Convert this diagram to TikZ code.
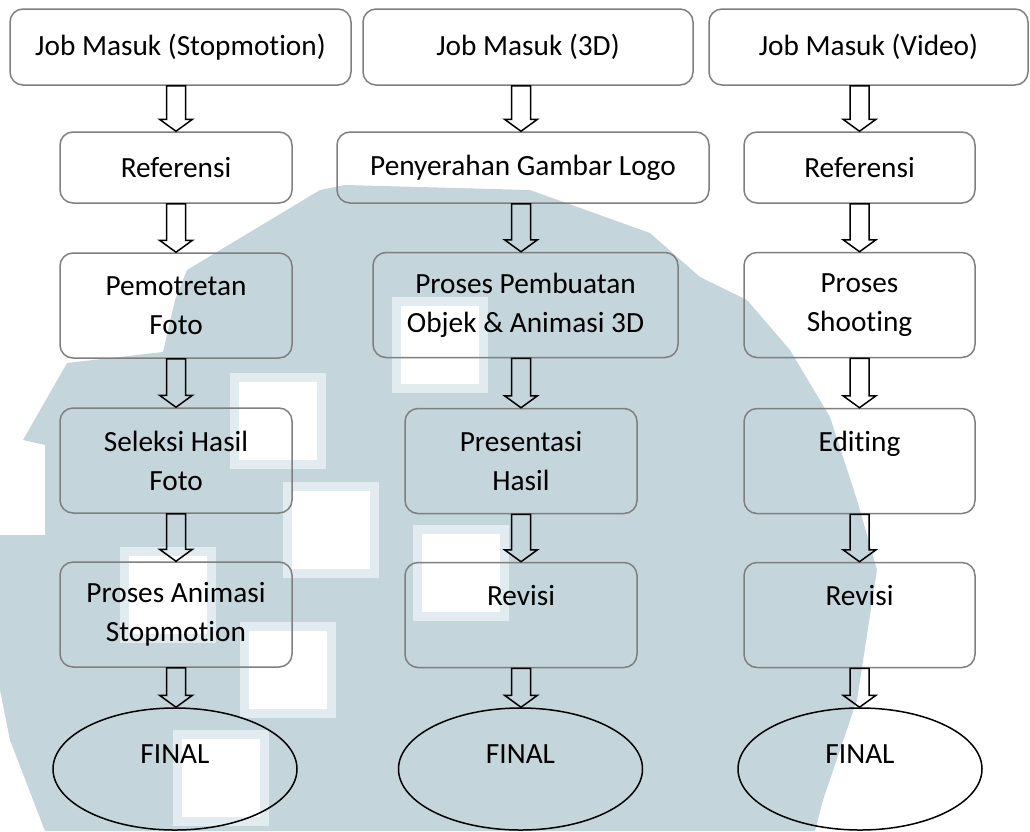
\documentclass[tikz,border=0pt]{standalone}
\usepackage{fontspec}
\setmainfont{Carlito}[Ligatures=NoCommon]
\usetikzlibrary{shapes.geometric,calc}

\definecolor{garisabu}{HTML}{7F7F7F}
\definecolor{latarbiru}{HTML}{C4D5DC}
\definecolor{latarpucat}{HTML}{E2EBEF}

\tikzset{
  kotak/.style={draw=garisabu, line width=1.5pt, rounded corners=13pt, align=center,
    inner sep=0pt, minimum width=232pt, minimum height=105pt},
  kotakjob/.style={kotak, minimum height=76pt},
  kotakref/.style={kotak, minimum height=71pt},
  lonjong/.style={draw, ellipse, line width=1.5pt, inner sep=0pt,
    minimum width=244pt, minimum height=122pt, text depth=30pt},
  panah/.style={draw, line width=1.5pt, line join=miter}
}

% panah blok dari #2 ke #3 pada sumbu kolom #1
\newcommand{\panahblok}[3]{%
  \draw[panah] let \p1=(#2.south -| #1), \p2=(#3.north -| #1) in
    (\x1-9.5pt,\y1) -- (\x1+9.5pt,\y1) -- (\x1+9.5pt,\y2+12pt) -- (\x1+16.5pt,\y2+12pt)
    -- (\x2,\y2) -- (\x1-16.5pt,\y2+12pt) -- (\x1-9.5pt,\y2+12pt) -- cycle;}

\begin{document}
\begin{tikzpicture}[x=1pt, y=-1pt, font=\fontsize{29.3}{39}\selectfont]
    \useasboundingbox (0,0) rectangle (1030,831);

    % Latar (watermark)
    \fill[latarbiru] (45,831) -- (10,740) -- (0,690) -- (0,535) -- (45,535) -- (45,445)
      -- (23,440) -- (67,363) -- (163,352) -- (175,300) -- (187,270) -- (320,190)
      -- (345,185) -- (530,190) -- (650,233) -- (700,277) -- (747,300) -- (790,350)
      -- (830,417) -- (857,500) -- (877,570) -- (857,700) -- (823,800) -- (815,831) -- cycle;
    \foreach \x/\y in {230/373, 283/482, 392/297, 413/525, 240/622, 120/547, 173/730} {
      \fill[latarpucat] (\x,\y) rectangle ++(96,96);
      \fill[white] (\x+9,\y+9) rectangle ++(78,78);
    }

    % Sumbu kolom
    \coordinate (c1) at (176,0);
    \coordinate (c2) at (521,0);
    \coordinate (c3) at (859.5,0);

    % Kolom 1: Stopmotion
    \node[kotakjob, minimum width=341pt] (job1) at (180.5,47) {Job Masuk (Stopmotion)};
    \node[kotakref] (ref1) at (176,167.5) {Referensi};
    \node[kotak] (foto1) at (176,305.5) {Pemotretan\\Foto};
    \node[kotak] (seleksi1) at (176,460.5) {Seleksi Hasil\\Foto};
    \node[kotak] (animasi1) at (176,614.5) {Proses Animasi\\Stopmotion};
    \node[lonjong] (final1) at (175,769) {FINAL};

    % Kolom 2: 3D
    \node[kotakjob, minimum width=330pt] (job2) at (528,47) {Job Masuk (3D)};
    \node[kotakref, minimum width=372pt] (logo2) at (523,167.5) {Penyerahan Gambar Logo};
    \node[kotak, minimum width=305pt] (buat2) at (525.5,305) {Proses Pembuatan\\Objek \& Animasi 3D};
    \node[kotak] (pres2) at (521,461) {Presentasi\\Hasil};
    \node[kotak] (rev2) at (521,615) {Revisi\\~};
    \node[lonjong] (final2) at (520.5,769) {FINAL};

    % Kolom 3: Video
    \node[kotakjob, minimum width=319pt] (job3) at (868.5,47) {Job Masuk (Video)};
    \node[kotakref, minimum width=231pt] (ref3) at (859.5,167.5) {Referensi};
    \node[kotak, minimum width=231pt] (shoot3) at (859.5,305) {Proses\\Shooting};
    \node[kotak, minimum width=231pt] (edit3) at (859.5,461) {Editing\\~};
    \node[kotak, minimum width=231pt] (rev3) at (859.5,615) {Revisi\\~};
    \node[lonjong] (final3) at (860,769) {FINAL};

    % Panah blok
    \foreach \a/\b in {job1/ref1, ref1/foto1, foto1/seleksi1, seleksi1/animasi1, animasi1/final1}
      \panahblok{c1}{\a}{\b};
    \foreach \a/\b in {job2/logo2, logo2/buat2, buat2/pres2, pres2/rev2, rev2/final2}
      \panahblok{c2}{\a}{\b};
    \foreach \a/\b in {job3/ref3, ref3/shoot3, shoot3/edit3, edit3/rev3, rev3/final3}
      \panahblok{c3}{\a}{\b};
\end{tikzpicture}
\end{document}
